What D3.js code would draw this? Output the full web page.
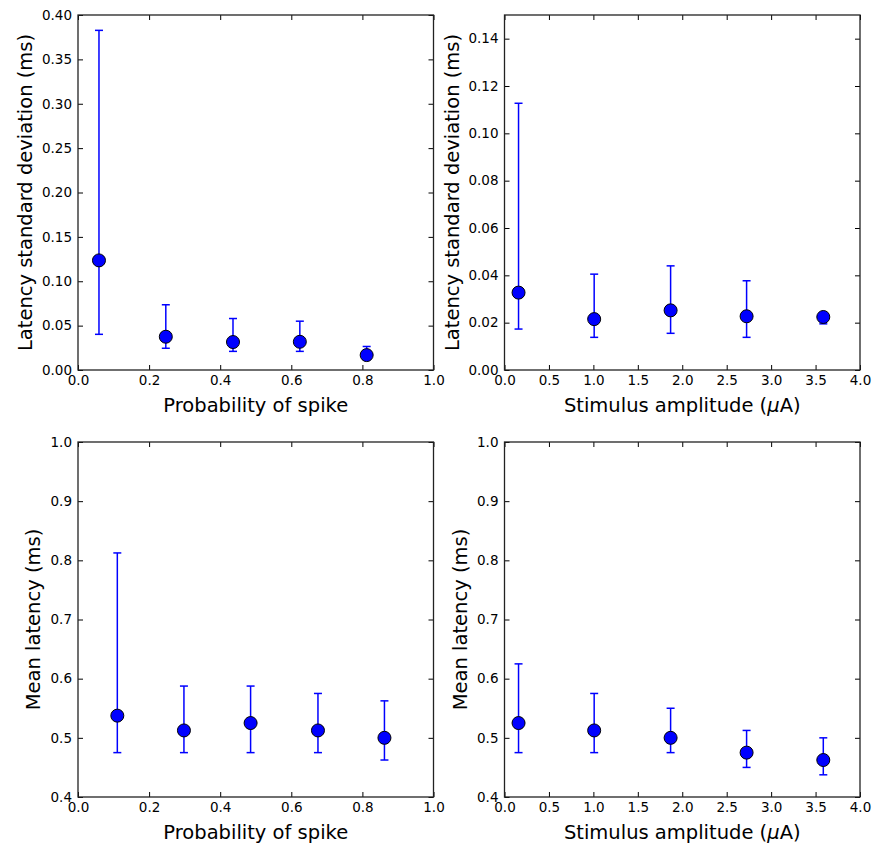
<!DOCTYPE html>
<html>
<head>
<meta charset="utf-8">
<script src="https://cdn.jsdelivr.net/npm/d3@7"></script>
<style>
  body { margin: 0; background: #fff; }
  text { font-family: "DejaVu Sans", sans-serif; fill: #000; }
</style>
</head>
<body>
<div id="container"></div>
<script>
/* DATA */
const probSpikeTop = [0.059, 0.247, 0.436, 0.624, 0.812]
const stdByProb = [0.1235, 0.0375, 0.0315, 0.0318, 0.0168]
const stdByProbLow = [0.0402, 0.0245, 0.0210, 0.0210, 0.0155]
const stdByProbHigh = [0.3827, 0.0735, 0.0580, 0.0550, 0.0265]

const ampTop = [0.158, 1.009, 1.869, 2.724, 3.587]
const stdByAmp = [0.0327, 0.0215, 0.0252, 0.0227, 0.0224]
const stdByAmpLow = [0.0173, 0.0138, 0.0155, 0.0138, 0.0195]
const stdByAmpHigh = [0.1127, 0.0405, 0.0440, 0.0377, 0.0228]

const probSpikeBottom = [0.1106, 0.298, 0.4855, 0.675, 0.862]
const meanByProb = [0.5375, 0.5125, 0.525, 0.5125, 0.5]
const meanByProbLow = [0.475, 0.475, 0.475, 0.475, 0.4625]
const meanByProbHigh = [0.8125, 0.5875, 0.5875, 0.575, 0.5625]

const ampBottom = [0.158, 1.009, 1.869, 2.724, 3.587]
const meanByAmp = [0.525, 0.5125, 0.5, 0.475, 0.4625]
const meanByAmpLow = [0.475, 0.475, 0.475, 0.45, 0.4375]
const meanByAmpHigh = [0.625, 0.575, 0.55, 0.5125, 0.5]

const width = 881, height = 846

const panels = [
  { x: probSpikeTop, y: stdByProb, lo: stdByProbLow, hi: stdByProbHigh,
    xDomain: [0, 1], xTicks: d3.range(0, 1.01, 0.2), xFmt: ".1f",
    yDomain: [0, 0.4], yTicks: d3.range(0, 0.401, 0.05), yFmt: ".2f",
    xLabel: ["Probability of spike"], yLabel: "Latency standard deviation (ms)",
    left: 78, top: 15, labelX: 25 },
  { x: ampTop, y: stdByAmp, lo: stdByAmpLow, hi: stdByAmpHigh,
    xDomain: [0, 4], xTicks: d3.range(0, 4.01, 0.5), xFmt: ".1f",
    yDomain: [0, 0.15], yTicks: d3.range(0, 0.141, 0.02), yFmt: ".2f",
    xLabel: ["Stimulus amplitude (", "\u03bc", "A)"], yLabel: "Latency standard deviation (ms)",
    left: 504.5, top: 15, labelX: 452 },
  { x: probSpikeBottom, y: meanByProb, lo: meanByProbLow, hi: meanByProbHigh,
    xDomain: [0, 1], xTicks: d3.range(0, 1.01, 0.2), xFmt: ".1f",
    yDomain: [0.4, 1.0], yTicks: d3.range(0.4, 1.01, 0.1), yFmt: ".1f",
    xLabel: ["Probability of spike"], yLabel: "Mean latency (ms)",
    left: 78, top: 442, labelX: 33 },
  { x: ampBottom, y: meanByAmp, lo: meanByAmpLow, hi: meanByAmpHigh,
    xDomain: [0, 4], xTicks: d3.range(0, 4.01, 0.5), xFmt: ".1f",
    yDomain: [0.4, 1.0], yTicks: d3.range(0.4, 1.01, 0.1), yFmt: ".1f",
    xLabel: ["Stimulus amplitude (", "\u03bc", "A)"], yLabel: "Mean latency (ms)",
    left: 504.5, top: 442, labelX: 460 }
]

const pw = 355.5, ph = 355

const svg = d3.select("#container")
  .append("svg")
  .attr("width", width)
  .attr("height", height)

panels.forEach(p => {
  const g = svg.append("g").attr("transform", `translate(${p.left},${p.top})`)

  const xScale = d3.scaleLinear().domain(p.xDomain).range([0, pw])
  const yScale = d3.scaleLinear().domain(p.yDomain).range([ph, 0])

  // axes with inward ticks on all four sides
  const tickLen = 5
  const bottomAxis = g.append("g").attr("transform", `translate(0,${ph})`)
    .call(d3.axisBottom(xScale).tickValues(p.xTicks).tickFormat(d3.format(p.xFmt))
      .tickSizeInner(-tickLen).tickSizeOuter(0).tickPadding(8))
  const leftAxis = g.append("g")
    .call(d3.axisLeft(yScale).tickValues(p.yTicks).tickFormat(d3.format(p.yFmt))
      .tickSizeInner(-tickLen).tickSizeOuter(0).tickPadding(6))
  const topAxis = g.append("g")
    .call(d3.axisTop(xScale).tickValues(p.xTicks).tickFormat("")
      .tickSizeInner(-tickLen).tickSizeOuter(0))
  const rightAxis = g.append("g").attr("transform", `translate(${pw},0)`)
    .call(d3.axisRight(yScale).tickValues(p.yTicks).tickFormat("")
      .tickSizeInner(-tickLen).tickSizeOuter(0))

  ;[bottomAxis, leftAxis, topAxis, rightAxis].forEach(a => {
    a.select(".domain").remove()
    a.selectAll("line").attr("stroke", "#000").attr("stroke-width", 1)
    a.selectAll("text").attr("font-size", 13.5).attr("font-family", "DejaVu Sans")
  })
  bottomAxis.selectAll("text").attr("dy", "0.71em").attr("y", 5)

  g.append("rect")
    .attr("width", pw).attr("height", ph)
    .attr("fill", "none").attr("stroke", "#222").attr("stroke-width", 1.3)

  const rows = p.x.map((x, i) => ({ x: x, y: p.y[i], lo: p.lo[i], hi: p.hi[i] }))

  // error bars
  g.selectAll(".err")
    .data(rows)
    .join("line")
    .attr("class", "err")
    .attr("x1", d => xScale(d.x)).attr("x2", d => xScale(d.x))
    .attr("y1", d => yScale(d.lo)).attr("y2", d => yScale(d.hi))
    .attr("stroke", "blue").attr("stroke-width", 1.5)

  const caps = rows.flatMap(d => [{ x: d.x, v: d.lo }, { x: d.x, v: d.hi }])
  g.selectAll(".cap")
    .data(caps)
    .join("line")
    .attr("class", "cap")
    .attr("x1", d => xScale(d.x) - 4).attr("x2", d => xScale(d.x) + 4)
    .attr("y1", d => yScale(d.v)).attr("y2", d => yScale(d.v))
    .attr("stroke", "blue").attr("stroke-width", 1.5)

  // points
  g.selectAll("circle")
    .data(rows)
    .join("circle")
    .attr("cx", d => xScale(d.x))
    .attr("cy", d => yScale(d.y))
    .attr("r", 6.5)
    .attr("fill", "blue")
    .attr("stroke", "#000")
    .attr("stroke-width", 1)

  // axis labels
  const xl = g.append("text")
    .attr("x", pw / 2).attr("y", ph + 42)
    .attr("text-anchor", "middle")
    .attr("font-size", 19.5)
  xl.selectAll("tspan")
    .data(p.xLabel)
    .join("tspan")
    .attr("font-style", (d, i) => i === 1 ? "italic" : null)
    .text(d => d)

  g.append("text")
    .attr("transform", `translate(${p.labelX - p.left},${ph / 2}) rotate(-90)`)
    .attr("text-anchor", "middle")
    .attr("dominant-baseline", "central")
    .attr("font-size", 19.5)
    .text(p.yLabel)
})
</script>
</body>
</html>
